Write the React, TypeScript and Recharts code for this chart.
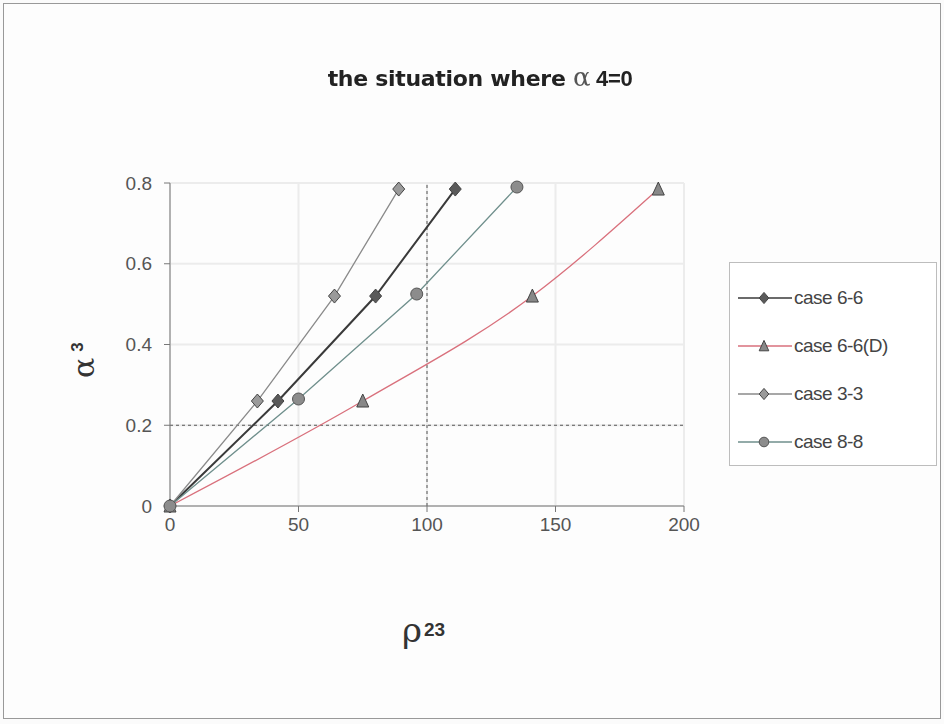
import React from "react";
import { LineChart, Line, XAxis, YAxis, CartesianGrid, ReferenceLine } from "recharts";

const xTicks = [0, 50, 100, 150, 200];
const yTicks = [0, 0.2, 0.4, 0.6, 0.8];

const case66 = [
  { x: 0, y: 0 },
  { x: 42, y: 0.26 },
  { x: 80, y: 0.52 },
  { x: 111, y: 0.785 },
];
const case66D = [
  { x: 0, y: 0 },
  { x: 75, y: 0.26 },
  { x: 141, y: 0.52 },
  { x: 190, y: 0.785 },
];
const case33 = [
  { x: 0, y: 0 },
  { x: 34, y: 0.26 },
  { x: 64, y: 0.52 },
  { x: 89, y: 0.785 },
];
const case88 = [
  { x: 0, y: 0 },
  { x: 50, y: 0.265 },
  { x: 96, y: 0.525 },
  { x: 135, y: 0.79 },
];

type Marker = "diamond" | "triangle" | "circle";

const series = [
  { name: "case 6-6", data: case66, color: "#3a3a3a", fill: "#5a5a5a", marker: "diamond" as Marker, curve: "linear" },
  { name: "case 6-6(D)", data: case66D, color: "#d9707c", fill: "#888", marker: "triangle" as Marker, curve: "monotone" },
  { name: "case 3-3", data: case33, color: "#8a8a8a", fill: "#9a9a9a", marker: "diamond" as Marker, curve: "linear" },
  { name: "case 8-8", data: case88, color: "#6f8f8c", fill: "#8c8c8c", marker: "circle" as Marker, curve: "linear" },
];

function markerPath(kind: Marker, cx: number, cy: number, fill: string, key?: string, s = 1) {
  if (kind === "diamond")
    return <path key={key} d={`M${cx},${cy - 7 * s} L${cx + 6 * s},${cy} L${cx},${cy + 7 * s} L${cx - 6 * s},${cy} Z`} fill={fill} stroke="#444" strokeWidth={1} />;
  if (kind === "triangle")
    return <path key={key} d={`M${cx},${cy - 7 * s} L${cx + 6 * s},${cy + 6 * s} L${cx - 6 * s},${cy + 6 * s} Z`} fill={fill} stroke="#444" strokeWidth={1} />;
  return <circle key={key} cx={cx} cy={cy} r={6 * s} fill={fill} stroke="#555" strokeWidth={1} />;
}

const makeDot = (kind: Marker, fill: string) => (props: any) =>
  markerPath(kind, props.cx, props.cy, fill, `${kind}-${props.index}`);

function LegendBox() {
  return (
    <div
      style={{
        position: "absolute",
        left: 729,
        top: 262,
        width: 208,
        height: 204,
        border: "1px solid #bdbdbd",
        background: "#fff",
        boxSizing: "border-box",
        paddingTop: 11,
      }}
    >
      {series.map((s) => (
        <div key={s.name} style={{ display: "flex", alignItems: "center", height: 48 }}>
          <svg width={56} height={20} style={{ marginLeft: 6 }}>
            <line x1={2} y1={10} x2={56} y2={10} stroke={s.color} strokeWidth={1.3} />
            {markerPath(s.marker, 28, 10, s.fill, undefined, 0.8)}
          </svg>
          <span style={{ fontFamily: "Liberation Sans, Arial", fontSize: 19, color: "#444", letterSpacing: -0.5, marginLeft: 2 }}>{s.name}</span>
        </div>
      ))}
    </div>
  );
}

export default function App() {
  return (
    <div style={{ position: "fixed", left: 0, top: 0, width: 944, height: 724, background: "#fbfbfb" }}>
      <div style={{ position: "absolute", left: 3, top: 3, width: 936, height: 714, border: "1px solid #999", background: "#fdfdfd" }} />
      <LineChart
        width={944}
        height={724}
        margin={{ top: 183, right: 260, bottom: 188, left: 110 }}
        style={{ position: "absolute", left: 0, top: 0 }}
      >
        <CartesianGrid stroke="#ececec" strokeWidth={2} />
        <XAxis
          type="number"
          dataKey="x"
          domain={[0, 200]}
          ticks={xTicks}
          height={30}
          stroke="#777"
          tickSize={6}
          tickMargin={6}
          tick={{ fill: "#555", fontSize: 19, fontFamily: "Liberation Sans, Arial" }}
        />
        <YAxis
          type="number"
          dataKey="y"
          domain={[0, 0.8]}
          ticks={yTicks}
          width={60}
          stroke="#777"
          tickSize={6}
          tickMargin={12}
          tickFormatter={(v: number) => (v === 0 ? "0" : String(v))}
          tick={{ fill: "#555", fontSize: 19, fontFamily: "Liberation Sans, Arial" }}
        />
        <ReferenceLine x={100} stroke="#555" strokeDasharray="3 3" />
        <ReferenceLine y={0.2} stroke="#555" strokeDasharray="3 3" />
        {series.map((s) => (
          <Line
            key={s.name}
            data={s.data}
            dataKey="y"
            name={s.name}
            type={s.curve as any}
            stroke={s.color}
            strokeWidth={s.name === "case 6-6" ? 2 : 1.3}
            dot={makeDot(s.marker, s.fill)}
            activeDot={false}
            isAnimationActive={false}
          />
        ))}
      </LineChart>
      <LegendBox />
      <div
        style={{
          position: "absolute",
          left: 0,
          width: 960,
          top: 62,
          textAlign: "center",
          fontFamily: "DejaVu Sans, Verdana",
          fontWeight: "bold",
          fontSize: 22,
          color: "#222",
          letterSpacing: -0.3,
        }}
      >
        the situation where{" "}
        <span style={{ fontFamily: "DejaVu Serif", fontWeight: "normal", fontSize: 26, color: "#555" }}>α</span>
        <span style={{ fontFamily: "Liberation Sans Narrow, Liberation Sans", fontSize: 22 }}> 4=0</span>
      </div>
      <div
        style={{
          position: "absolute",
          left: 46,
          top: 318,
          width: 80,
          height: 40,
          transform: "rotate(-90deg)",
          transformOrigin: "40px 20px",
          fontFamily: "DejaVu Serif",
          fontSize: 30,
          color: "#333",
          whiteSpace: "nowrap",
        }}
      >
        α<span style={{ fontFamily: "Liberation Sans", fontWeight: "bold", fontSize: 17, verticalAlign: "super", marginLeft: 6 }}>3</span>
      </div>
      <div
        style={{
          position: "absolute",
          left: 402,
          top: 610,
          fontFamily: "DejaVu Serif",
          fontSize: 34,
          color: "#333",
          whiteSpace: "nowrap",
        }}
      >
        ρ<span style={{ fontFamily: "Liberation Sans", fontWeight: "bold", fontSize: 19, verticalAlign: "6px", marginLeft: 2 }}>23</span>
      </div>
    </div>
  );
}
